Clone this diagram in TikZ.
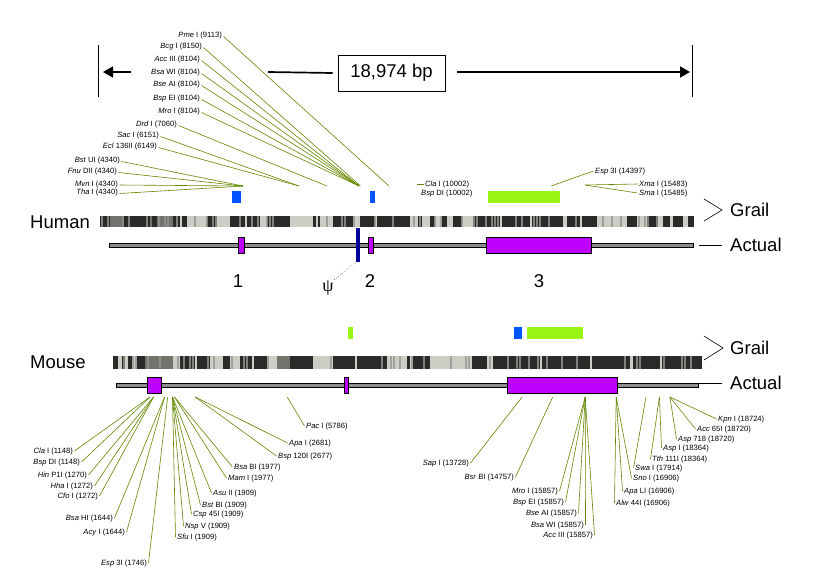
\documentclass[tikz,border=0pt]{standalone}
\usepackage{fontspec}
\setmainfont{Liberation Sans}
\newfontfamily\psifont{Liberation Serif}
\usetikzlibrary{arrows.meta,calc}
\definecolor{rsgreen}{RGB}{100,135,0}
\definecolor{exonc}{RGB}{190,0,255}
\definecolor{bluec}{RGB}{0,85,255}
\definecolor{limec}{RGB}{155,245,20}
\definecolor{psic}{RGB}{0,0,150}
\definecolor{linegray}{RGB}{140,140,140}
\definecolor{glight}{RGB}{205,205,198}
\definecolor{gmed}{RGB}{115,115,110}
\definecolor{gdark}{RGB}{42,42,40}
\definecolor{gstripe}{RGB}{150,150,145}
\newcommand\labE[6]{%
  \node[rs,anchor=east] (#1) at (#2,#3) {\textit{#4} #5};
  \draw[rsl] ($(#1.east)+(1.5,0.5)$) -- (#6);}
\newcommand\labW[6]{%
  \node[rs,anchor=west] (#1) at (#2,#3) {\textit{#4} #5};
  \draw[rsl] ($(#1.west)+(-1.5,-1)$) -- (#6);}
\newcommand\labEb[6]{%
  \node[rs,anchor=east] (#1) at (#2,#3) {\textit{#4} #5};
  \draw[rsl] ($(#1.east)+(1.5,-1)$) -- (#6);}
\begin{document}
\begin{tikzpicture}[x=1pt,y=-1pt,
  rs/.style={font=\fontsize{7.6}{9}\selectfont, inner sep=0pt},
  rsl/.style={draw=rsgreen, line width=0.6pt},
  big/.style={font=\fontsize{18.5}{22}\selectfont, inner sep=0pt},
  exonbox/.style={fill=exonc, draw=black, line width=0.7pt},
  actline/.style={fill=linegray, draw=black, line width=0.7pt},
  thinblk/.style={draw=black, line width=0.6pt}]
\fill[white] (0,0) rectangle (819,584);
\useasboundingbox (0,0) rectangle (819,584);
\pgfmathsetseed{4711}

% ---------- dimension line ----------
\draw[line width=1pt] (98,45) -- (98,97);
\draw[line width=1pt] (692,45) -- (692,97);
\node[big, draw, line width=0.8pt, minimum width=107pt, minimum height=36pt] (bp) at (391.5,73) {18,974 bp};
\coordinate (la) at (131,72);
\coordinate (lb) at (103,72);
\coordinate (lc) at (268,72);
\coordinate (rd) at (457,72);
\coordinate (re) at (690,72);
\draw[line width=1.7pt, -{Triangle[length=10pt,width=11pt]}] (la) -- (lb);
\draw[line width=1.7pt] (lc) -- ($(bp.west)+(-5,0)$);
\draw[line width=1.7pt, -{Triangle[length=10pt,width=11pt]}] (rd) -- (re);

% ---------- Human ----------
\node[big, anchor=west] (human) at (30,222) {Human};
% grail bar
\fill[glight] (100,216) rectangle (694,227);
\foreach \a/\b in {110/123,145/173,277/290}
  \fill[gmed] (\a,216) rectangle (\b,227);
\foreach \a/\b in {100/110,123/150,152/157,173/180,182/187,207/217,230/245,247/260,267/290,313/316,318/320,333/353,360/375,377/410,418/422,430/435,442/447,453/462,473/500,502/530,532/563,567/580,582/597,627/637,647/658,663/670,673/683,688/694}
  \fill[gdark] (\a,216) rectangle (\b,227);
\foreach \x in {101,104,...,691}{
  \pgfmathsetmacro\r{rnd}
  \ifdim\r pt>0.8pt \fill[gstripe,opacity=0.8] (\x,216) rectangle (\x+1.5,227);\fi}
% actual
\filldraw[actline] (109,243) rectangle (693,247);
\filldraw[exonbox] (238,237) rectangle (244,253);
\filldraw[exonbox] (368,237) rectangle (373,253);
\filldraw[exonbox] (486,237) rectangle (591,253);
\fill[psic] (356,228) rectangle (360,262);
\coordinate (psitop) at (356,262);
\node[inner sep=0pt, font=\psifont\fontsize{18}{20}\selectfont] (psi) at (328,288) {ψ};
\draw[black, line width=0.5pt, dotted] (psitop) -- (334,280);
\node[big] (n1) at (238,281) {1};
\node[big] (n2) at (370,281) {2};
\node[big] (n3) at (539,281) {3};
% grail boxes
\fill[bluec] (232,191) rectangle (241,203);
\fill[bluec] (370,191) rectangle (375,203);
\fill[limec] (488,191) rectangle (560,203);
% legend
\draw[thinblk] (704,199) -- (722,210) -- (704,221);
\node[big, anchor=west] (g1) at (730,210) {Grail};
\draw[thinblk] (699,245) -- (722,245);
\node[big, anchor=west] (a1) at (730,245) {Actual};

% top restriction sites
\coordinate (hA) at (243,186);
\coordinate (hB) at (299,186);
\coordinate (hC) at (327,186);
\coordinate (hD) at (359,186);
\coordinate (hE) at (360.5,186);
\coordinate (hF) at (389,186);
\coordinate (hG) at (417,184);
\coordinate (hH) at (551,186);
\coordinate (hI) at (585,185);
\labE{t1}{222}{36}{Pme}{I (9113)}{hF}
\labE{t2}{202}{47}{Bcg}{I (8150)}{hE}
\labE{t3}{200}{60}{Acc}{III (8104)}{hD}
\labE{t4}{200}{73}{Bsa}{WI (8104)}{hD}
\labE{t5}{200}{85}{Bse}{AI (8104)}{hD}
\labE{t6}{200}{99}{Bsp}{EI (8104)}{hD}
\labE{t7}{200}{112}{Mro}{I (8104)}{hD}
\labE{t8}{177}{125}{Drd}{I (7060)}{hC}
\labE{t9}{159}{136}{Sac}{I (6151)}{hB}
\labE{t10}{157}{147}{Ecl}{136II (6149)}{hB}
\labE{t11}{120}{161}{Bst}{UI (4340)}{hA}
\labE{t12}{117}{172}{Fnu}{DII (4340)}{hA}
\labE{t13}{118}{184.5}{Mvn}{I (4340)}{hA}
\labE{t14}{118}{193}{Tha}{I (4340)}{hA}
\labW{t15}{425}{185}{Cla}{I (10002)}{hG}
\node[rs,anchor=west] (t16) at (421,194) {\textit{Bsp} DI (10002)};
\labW{t17}{595}{172}{Esp}{3I (14397)}{hH}
\labW{t18}{639}{185}{Xma}{I (15483)}{hI}
\labW{t19}{639}{194}{Sma}{I (15485)}{hI}

% ---------- Mouse ----------
\node[big, anchor=west] (mouse) at (30,362) {Mouse};
\fill[glight] (113,356) rectangle (702,369);
\foreach \a/\b in {145/173,277/290}
  \fill[gmed] (\a,356) rectangle (\b,369);
\foreach \a/\b in {113/118,122/125,128/132,137/145,180/195,197/210,223/230,240/252,254/267,290/313,333/355,357/387,407/410,413/430,472/487,493/540,542/590,592/630,633/660,662/702}
  \fill[gdark] (\a,356) rectangle (\b,369);
\foreach \x in {114,117,...,700}{
  \pgfmathsetmacro\r{rnd}
  \ifdim\r pt>0.8pt \fill[gstripe,opacity=0.8] (\x,356) rectangle (\x+1.5,369);\fi}
\filldraw[actline] (116,383) rectangle (698,387);
\filldraw[exonbox] (147,377) rectangle (161,393);
\filldraw[exonbox] (344,377) rectangle (348,393);
\filldraw[exonbox] (507,377) rectangle (617,393);
\fill[limec] (348,327) rectangle (353,339);
\fill[bluec] (514,327) rectangle (522,339);
\fill[limec] (527,327) rectangle (583,339);
\draw[thinblk] (704,336) -- (723,348) -- (704,360);
\node[big, anchor=west] (g2) at (730,348) {Grail};
\draw[thinblk] (698,383) -- (722,383);
\node[big, anchor=west] (a2) at (730,383) {Actual};

% bottom restriction sites
\coordinate (m1148) at (150,397);
\coordinate (m1270) at (153.6,397);
\coordinate (m1644) at (164.6,397);
\coordinate (m1746) at (167.7,397);
\coordinate (m1909) at (172.5,397);
\coordinate (m1977) at (174.5,397);
\coordinate (m2677) at (195.2,397);
\coordinate (m5786) at (287.2,397);
\coordinate (m13728) at (522.2,397);
\coordinate (m14757) at (552.7,397);
\coordinate (m15857) at (585.2,397);
\coordinate (m16906) at (616.2,397);
\coordinate (m17914) at (646,397);
\coordinate (m18364) at (659.4,397);
\coordinate (m18720) at (669.9,397);
\labEb{b1}{73}{452}{Cla}{I (1148)}{m1148}
\labEb{b2}{80}{463}{Bsp}{DI (1148)}{m1148}
\labEb{b3}{87}{476}{Hin}{P1I (1270)}{m1270}
\labEb{b4}{93}{487}{Hha}{I (1272)}{m1270}
\labEb{b5}{98}{497}{Cfo}{I (1272)}{m1270}
\labEb{b6}{113}{519}{Bsa}{HI (1644)}{m1644}
\labEb{b7}{125}{533}{Acy}{I (1644)}{m1644}
\labEb{b8}{147}{564}{Esp}{3I (1746)}{m1746}
\labW{b9}{177}{538}{Sfu}{I (1909)}{m1909}
\labW{b10}{185}{527}{Nsp}{V (1909)}{m1909}
\labW{b11}{193}{515}{Csp}{45I (1909)}{m1909}
\labW{b12}{202}{506}{Bst}{BI (1909)}{m1909}
\labW{b13}{213}{494}{Asu}{II (1909)}{m1909}
\labW{b14}{228}{479}{Mam}{I (1977)}{m1977}
\labW{b15}{234}{468}{Bsa}{BI (1977)}{m1977}
\labW{b16}{278}{457}{Bsp}{120I (2677)}{m2677}
\labW{b17}{289}{444}{Apa}{I (2681)}{m2677}
\labW{b18}{306}{427}{Pac}{I (5786)}{m5786}
\labEb{b19}{469}{464}{Sap}{I (13728)}{m13728}
\labEb{b20}{514}{478}{Bsr}{BI (14757)}{m14757}
\labEb{b21}{558}{492}{Mro}{I (15857)}{m15857}
\labEb{b22}{564}{503}{Bsp}{EI (15857)}{m15857}
\labEb{b23}{577}{514}{Bse}{AI (15857)}{m15857}
\labEb{b24}{584}{526}{Bsa}{WI (15857)}{m15857}
\labEb{b25}{593}{536}{Acc}{III (15857)}{m15857}
\labW{b26}{616}{504}{Alw}{44I (16906)}{m16906}
\labW{b27}{624}{492}{Apa}{LI (16906)}{m16906}
\labW{b28}{633}{479}{Sno}{I (16906)}{m16906}
\labW{b29}{635}{469}{Swa}{I (17914)}{m17914}
\labW{b30}{652}{460}{Tth}{111I (18364)}{m18364}
\labW{b31}{663}{449}{Asp}{I (18364)}{m18364}
\labW{b32}{678}{440}{Asp}{718 (18720)}{m18720}
\labW{b33}{697}{430}{Acc}{65I (18720)}{m18720}
\labW{b34}{718}{420}{Kpn}{I (18724)}{m18720}
\end{tikzpicture}
\end{document}
